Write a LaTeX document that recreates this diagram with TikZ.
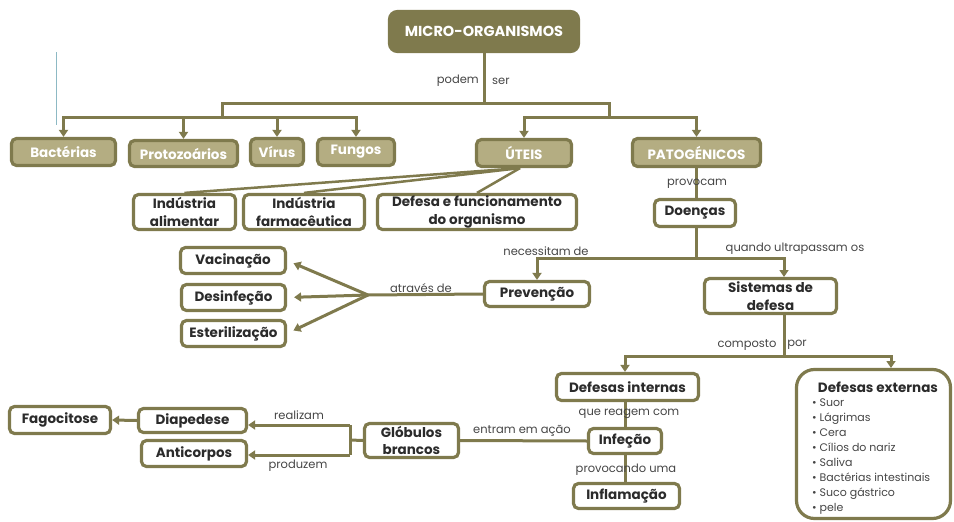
\documentclass[tikz,border=0pt]{standalone}
\usepackage{fontspec}
\setmainfont{Poppins}
\usetikzlibrary{arrows.meta,calc}
\definecolor{olive}{HTML}{7F7A4D}
\definecolor{lightolive}{HTML}{B4AD82}
\definecolor{labelgray}{HTML}{454545}
\definecolor{textdark}{HTML}{2B2B2B}
\definecolor{artline}{HTML}{8DB9C4}
\begin{document}
\begin{tikzpicture}[x=1pt,y=-1pt,
  box/.style={draw=olive,line width=3.2pt,rounded corners=5pt,fill=white,
    font=\bfseries\fontsize{13.5}{17.5}\selectfont,text=textdark,align=center,inner sep=0pt},
  catbox/.style={box,fill=lightolive,text=white},
  conn/.style={draw=olive,line width=3pt},
  arr/.style={conn,-{Triangle[width=9pt,length=7pt]}},
  lab/.style={font=\fontsize{11.5}{13}\selectfont,text=labelgray,inner sep=1pt},
]
\useasboundingbox (0,0) rectangle (954,522);

% thin artefact line
\coordinate (art1) at (56,52);
\coordinate (art2) at (56,125);
\draw[artline,line width=0.9pt] (art1) -- (art2);

% nodes
\node[box,fill=olive,text=white,rounded corners=8pt,minimum width=189pt,minimum height=40pt,font=\bfseries\fontsize{14.5}{16}\selectfont] (top) at (484,31.5) {MICRO-ORGANISMOS};

\node[catbox,minimum width=104pt,minimum height=27pt] (bact) at (63.5,152) {Bactérias};
\node[catbox,minimum width=108pt,minimum height=26pt] (proto) at (183.5,153.5) {Protozoários};
\node[catbox,minimum width=53pt,minimum height=27pt] (virus) at (277,152) {Vírus};
\node[catbox,minimum width=77pt,minimum height=27pt] (fungos) at (356,152) {Fungos};
\node[catbox,minimum width=95pt,minimum height=27pt] (uteis) at (524,153) {ÚTEIS};
\node[catbox,minimum width=128pt,minimum height=28pt] (pato) at (696.5,152.5) {PATOGÉNICOS};

\node[box,minimum width=102pt,minimum height=35pt] (indal) at (184.5,212) {Indústria\\alimentar};
\node[box,minimum width=121pt,minimum height=35pt] (indfar) at (304,212) {Indústria\\farmacêutica};
\node[box,minimum width=199pt,minimum height=35pt] (defesa) at (477,212) {Defesa e funcionamento\\do organismo};

\node[box,minimum width=81pt,minimum height=27pt] (doencas) at (695,213) {Doenças};

\node[box,minimum width=105pt,minimum height=26pt] (vac) at (233,260.5) {Vacinação};
\node[box,minimum width=104pt,minimum height=26pt] (des) at (233.5,297.5) {Desinfeção};
\node[box,minimum width=104pt,minimum height=26pt] (est) at (233.5,333.5) {Esterilização};
\node[box,minimum width=105pt,minimum height=25pt] (prev) at (537,294) {Prevenção};
\node[box,minimum width=132pt,minimum height=35pt] (sist) at (770.5,296) {Sistemas de\\defesa};

\node[box,minimum width=142pt,minimum height=27pt] (dint) at (627.5,387) {Defesas internas};
\node[box,rounded corners=18pt,minimum width=154pt,minimum height=149pt] (dext) at (873.5,444) {};
\node[font=\bfseries\fontsize{13.5}{15}\selectfont,text=textdark,inner sep=0pt] (dexttitle) at (878,387.5) {Defesas externas};
\node[anchor=north west,align=left,font=\fontsize{11}{15}\selectfont,text=labelgray,inner sep=0pt] (dextlist) at (812,399)
  {• Suor\\• Lágrimas\\• Cera\\• Cílios do nariz\\• Saliva\\• Bactérias intestinais\\• Suco gástrico\\• pele};

\node[box,minimum width=73pt,minimum height=25pt] (infec) at (625,441) {Infeção};
\node[box,minimum width=106pt,minimum height=25pt] (infl) at (626.5,496) {Inflamação};
\node[box,minimum width=94pt,minimum height=34pt] (glob) at (411.5,440.5) {Glóbulos\\brancos};
\node[box,minimum width=108pt,minimum height=24pt] (diap) at (192.5,420.5) {Diapedese};
\node[box,minimum width=105pt,minimum height=26pt] (anti) at (194,453.5) {Anticorpos};
\node[box,minimum width=101pt,minimum height=27pt] (fago) at (60,420) {Fagocitose};

% branch coordinates
\coordinate (b0) at (484,103);
\coordinate (b0l) at (222,103);
\coordinate (b0r) at (609,103);
\coordinate (bl) at (222,117);
\coordinate (br) at (609,117);
\coordinate (db) at (696,258);
\coordinate (sistin) at (784,277);
\coordinate (pb) at (368,295);
\coordinate (sb) at (784,356);
\coordinate (dextin) at (891,368);
\coordinate (gb) at (350,440);
\coordinate (gtop) at (350,425);
\coordinate (gbot) at (350,455);

% connectors
\draw[conn] (top.south) -- (b0);
\draw[conn] (bl) -- (b0l) -- (b0r) -- (br);
\draw[arr] (bl) -| (bact.north);
\draw[arr] (bl) -| (proto.north);
\draw[arr] (bl) -| (virus.north);
\draw[arr] (bl) -| (fungos.north);
\draw[arr] (br) -| (uteis.north);
\draw[arr] (br) -| (pato.north);

\draw[conn,line width=2.5pt] ($(uteis.south)+(-4,0)$) -- (indal.north);
\draw[conn,line width=2.5pt] ($(uteis.south)+(-4,0)$) -- (indfar.north);
\draw[conn,line width=2.5pt] ($(uteis.south)+(-4,0)$) -- (defesa.north);

\draw[conn] (pato.south) -- (pato.south |- doencas.north);
\draw[conn] (doencas.south -| db) -- (db);
\draw[arr] (db) -| (prev.north);
\draw[arr] (db) -| (sistin);

\draw[conn] (prev.west) -- (pb);
\draw[arr,shorten >=7pt] (pb) -- (vac.east);
\draw[arr,shorten >=7pt] (pb) -- (des.east);
\draw[arr,shorten >=7pt] (pb) -- (est.east);

\draw[conn] (sb |- sist.south) -- (sb);
\draw[arr] (sb) -| (dint.north -| infec.north);
\draw[arr] (sb) -| (dextin);

\draw[conn] (dint.south -| infec.north) -- (infec.north);
\draw[conn] (infec.south) -- (infec.south |- infl.north);
\draw[conn] (infec.west) -- (glob.east);
\draw[conn] (glob.west) -- (gb);
\draw[arr] (gtop) -- (gbot) (gtop) -- (diap.east |- gtop);
\draw[arr] (gbot) -- (anti.east |- gbot);
\draw[arr] (diap.west) -- (fago.east);

% labels
\node[lab,anchor=east] (lpodem) at (480,81) {podem};
\node[lab,anchor=west] (lser) at (491,81) {ser};
\node[lab] (lprov) at (697,184) {provocam};
\node[lab] (lnec) at (546,251) {necessitam de};
\node[lab] (lquando) at (795,249) {quando ultrapassam os};
\node[lab] (latraves) at (421,288) {através de};
\node[lab] (lcomp) at (747,345) {composto};
\node[lab] (lpor) at (797,345) {por};
\node[lab] (lreagem) at (629,414) {que reagem com};
\node[lab] (lentram) at (522,431) {entram em ação};
\node[lab] (lprovoc) at (626,470) {provocando uma};
\node[lab] (lreal) at (299,415) {realizam};
\node[lab] (lprod) at (298,466) {produzem};
\end{tikzpicture}
\end{document}
